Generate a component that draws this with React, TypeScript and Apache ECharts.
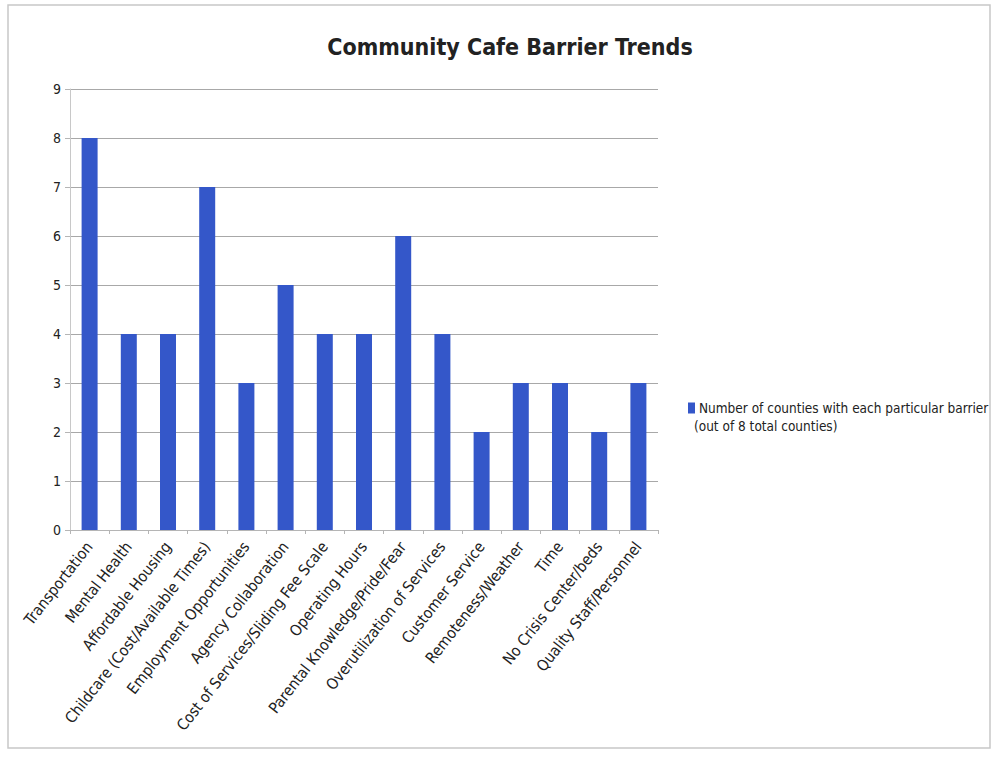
import React, { useEffect, useRef } from "react";
import * as echarts from "echarts";

const categories = [
  "Transportation",
  "Mental Health",
  "Affordable Housing",
  "Childcare (Cost/Available Times)",
  "Employment Opportunities",
  "Agency Collaboration",
  "Cost of Services/Sliding Fee Scale",
  "Operating Hours",
  "Parental Knowledge/Pride/Fear",
  "Overutilization of Services",
  "Customer Service",
  "Remoteness/Weather",
  "Time",
  "No Crisis Center/beds",
  "Quality Staff/Personnel",
];
const values = [8, 4, 4, 7, 3, 5, 4, 4, 6, 4, 2, 3, 3, 2, 3];
const seriesName = "Number of counties with each particular barrier (out of 8 total counties)";
const legendLine1 = "Number of counties with each particular barrier";
const legendLine2 = "(out of 8 total counties)";
const titleText = "Community Cafe Barrier Trends";

const FONT = "'DejaVu Sans Condensed', 'Liberation Sans', sans-serif";

export default function App() {
  const ref = useRef<HTMLDivElement>(null);
  useEffect(() => {
    document.body.style.margin = "0";
    const chart = echarts.init(ref.current!, null, { renderer: "svg" });
    chart.setOption({
      animation: false,
      backgroundColor: "#ffffff",
      title: {
        text: titleText,
        left: 505,
        textAlign: "center",
        top: 30,
        textStyle: { fontFamily: FONT, fontSize: 23, fontWeight: "bold", color: "#222" },
      },
      legend: {
        left: 683,
        top: 396,
        icon: "rect",
        itemWidth: 7,
        itemHeight: 11,
        itemGap: 4,
        formatter: () => legendLine1,
        textStyle: { fontFamily: FONT, fontSize: 13.5, color: "#222", padding: [0, 0, 0, -1] },
        data: [seriesName],
      },
      graphic: [
        {
          type: "rect",
          shape: { x: 8, y: 5, width: 982, height: 743 },
          style: { fill: "none", stroke: "#c8c8c8", lineWidth: 1.5 },
          silent: true,
        },
        {
          type: "text",
          left: 694,
          top: 419,
          style: { text: legendLine2, fontFamily: FONT, fontSize: 13.5, fill: "#222" },
        },
      ],
      grid: { left: 70, top: 89, width: 588, height: 441, containLabel: false },
      xAxis: {
        type: "category",
        data: categories,
        axisLine: { show: true, lineStyle: { color: "#b5b5b5" } },
        axisTick: { show: true, alignWithLabel: false, length: 4, lineStyle: { color: "#b5b5b5" } },
        axisLabel: {
          interval: 0,
          rotate: 52,
          margin: 14,
          fontFamily: FONT,
          fontSize: 15.5,
          color: "#222",
        },
      },
      yAxis: {
        type: "value",
        min: 0,
        max: 9,
        interval: 1,
        axisLine: { show: true, lineStyle: { color: "#c8c8c8" } },
        axisTick: { show: true, length: 5, lineStyle: { color: "#b5b5b5" } },
        axisLabel: { fontFamily: FONT, fontSize: 14, color: "#222", margin: 9 },
        splitLine: { lineStyle: { color: "#a8a8a8", width: 1.2 } },
      },
      series: [
        {
          name: seriesName,
          type: "bar",
          data: values,
          barWidth: 16,
          itemStyle: { color: "#3457c9" },
        },
      ],
    });
    return () => chart.dispose();
  }, []);
  return <div ref={ref} style={{ width: 994, height: 758 }} />;
}
